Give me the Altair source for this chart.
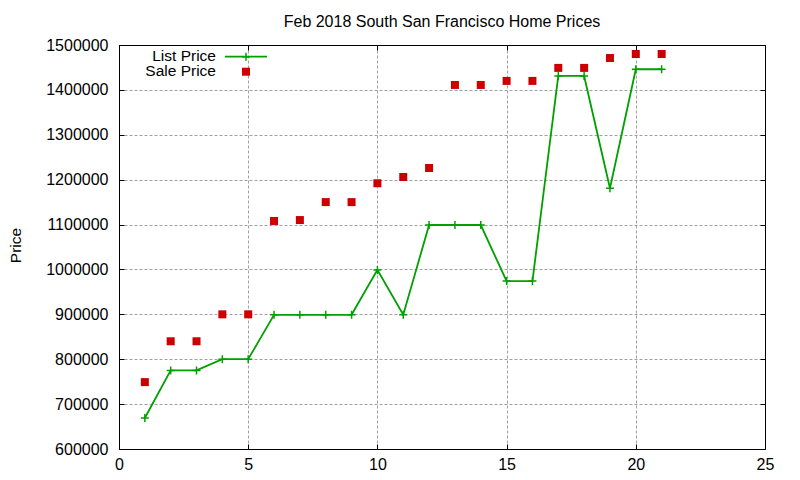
import altair as alt
import pandas as pd

# ---- data ----
house = list(range(1, 22))
list_price = [669000, 775000, 775000, 800000, 800000, 899000, 899000, 899000, 899000,
              999000, 899000, 1099000, 1099000, 1099000, 974000, 974000, 1431000,
              1431000, 1181000, 1446000, 1446000]
sale_price = [749000, 840000, 840000, 900000, 900000, 1108000, 1110000, 1150000, 1150000,
              1192000, 1206000, 1226000, 1411000, 1411000, 1420000, 1420000, 1449000,
              1449000, 1471000, 1480000, 1480000]
x_ticks = [0, 5, 10, 15, 20, 25]
y_ticks = list(range(600000, 1500001, 100000))

title_text = "Feb 2018 South San Francisco Home Prices"
y_title = "Price"
legend_labels = ["List Price", "Sale Price"]

GREEN = "#00a000"
RED = "#cc0000"
FONT = "Liberation Sans"
FS = 16
FS_LEG = 15.5
W, H = 646, 404
PLUS = "M-1,0L1,0M0,-1L0,1"

df = pd.DataFrame({"x": house, "list": list_price, "sale": sale_price})

xs = alt.Scale(domain=[0, 25], nice=False, zero=False)
ys = alt.Scale(domain=[600000, 1500000], nice=False, zero=False)

grid_kw = dict(grid=True, gridColor="#a0a0a0", gridDash=[3, 2], gridWidth=1)
lab_kw = dict(labelFont=FONT, labelFontSize=FS, labelColor="black", ticks=False, domain=False,
              labelFlush=False, labelOverlap=False)
tick_kw = dict(labels=False, ticks=True, tickSize=5, tickColor="black", tickWidth=1,
               domain=True, domainColor="black", domainWidth=1, grid=False, title=None, zindex=1)

# Layer 1: sale squares with labelled axes and grid
sale = alt.Chart(df).mark_point(shape="square", filled=True, size=64, color=RED, opacity=1).encode(
    x=alt.X("x:Q", scale=xs, axis=alt.Axis(values=x_ticks, orient="bottom", labelPadding=7,
                                           title=None, format="d", **lab_kw, **grid_kw)),
    y=alt.Y("sale:Q", scale=ys, axis=alt.Axis(values=y_ticks, orient="left", labelPadding=11,
                                              format="d", title=y_title, titleFont=FONT,
                                              titleFontSize=FS_LEG, titleFontWeight="normal",
                                              titleColor="black", titleAngle=-90,
                                              titleX=-99, titleY=200, titleAlign="center",
                                              titleBaseline="alphabetic", **lab_kw, **grid_kw)),
)

# Layer 2: list price line (inward ticks on bottom and left edges)
line = alt.Chart(df).mark_line(color=GREEN, strokeWidth=1.8).encode(
    x=alt.X("x:Q", scale=xs, axis=alt.Axis(values=x_ticks, orient="top", offset=-H, **tick_kw)),
    y=alt.Y("list:Q", scale=ys, axis=alt.Axis(values=y_ticks, orient="right", offset=-W, **tick_kw)),
)

# Layer 3: list price plus markers (inward ticks on top and right edges)
plus = alt.Chart(df).mark_point(shape=PLUS, size=64, color=GREEN, strokeWidth=1.5, opacity=1).encode(
    x=alt.X("x:Q", scale=xs, axis=alt.Axis(values=x_ticks, orient="bottom", offset=-H, **tick_kw)),
    y=alt.Y("list:Q", scale=ys, axis=alt.Axis(values=y_ticks, orient="left", offset=-W, **tick_kw)),
)

# Legend (gnuplot style: label then sample, top-left inside)
one = alt.Data(values=[{"a": 1}])
leg_text1 = alt.Chart(one).mark_text(text=legend_labels[0], align="right", baseline="middle",
                                     font=FONT, fontSize=FS_LEG, color="black").encode(
    x=alt.value(97), y=alt.value(10.5))
leg_text2 = alt.Chart(one).mark_text(text=legend_labels[1], align="right", baseline="middle",
                                     font=FONT, fontSize=FS_LEG, color="black").encode(
    x=alt.value(97), y=alt.value(25.5))
leg_line = alt.Chart(one).mark_rule(color=GREEN, strokeWidth=1.8).encode(
    x=alt.value(106), x2=alt.value(148), y=alt.value(11.7))
leg_plus = alt.Chart(one).mark_point(shape=PLUS, size=64, color=GREEN, strokeWidth=1.5, opacity=1).encode(
    x=alt.value(127), y=alt.value(11.7))
leg_sq = alt.Chart(one).mark_point(shape="square", filled=True, size=64, color=RED, opacity=1).encode(
    x=alt.value(127), y=alt.value(26.7))

chart = alt.layer(sale, line, plus, leg_text1, leg_text2, leg_line, leg_plus, leg_sq).resolve_axis(
    x="independent", y="independent"
).properties(
    width=W, height=H,
    title=alt.TitleParams(title_text, font=FONT, fontSize=16, fontWeight="normal", color="black",
                          anchor="middle", frame="group", offset=7),
    autosize=alt.AutoSizeParams(type="none"),
    padding={"left": 111, "top": 37, "right": 27, "bottom": 23},
).configure_view(stroke="black", strokeWidth=1).configure(background="white")

chart.save("out.html", embed_options={"renderer": "svg", "actions": False})
